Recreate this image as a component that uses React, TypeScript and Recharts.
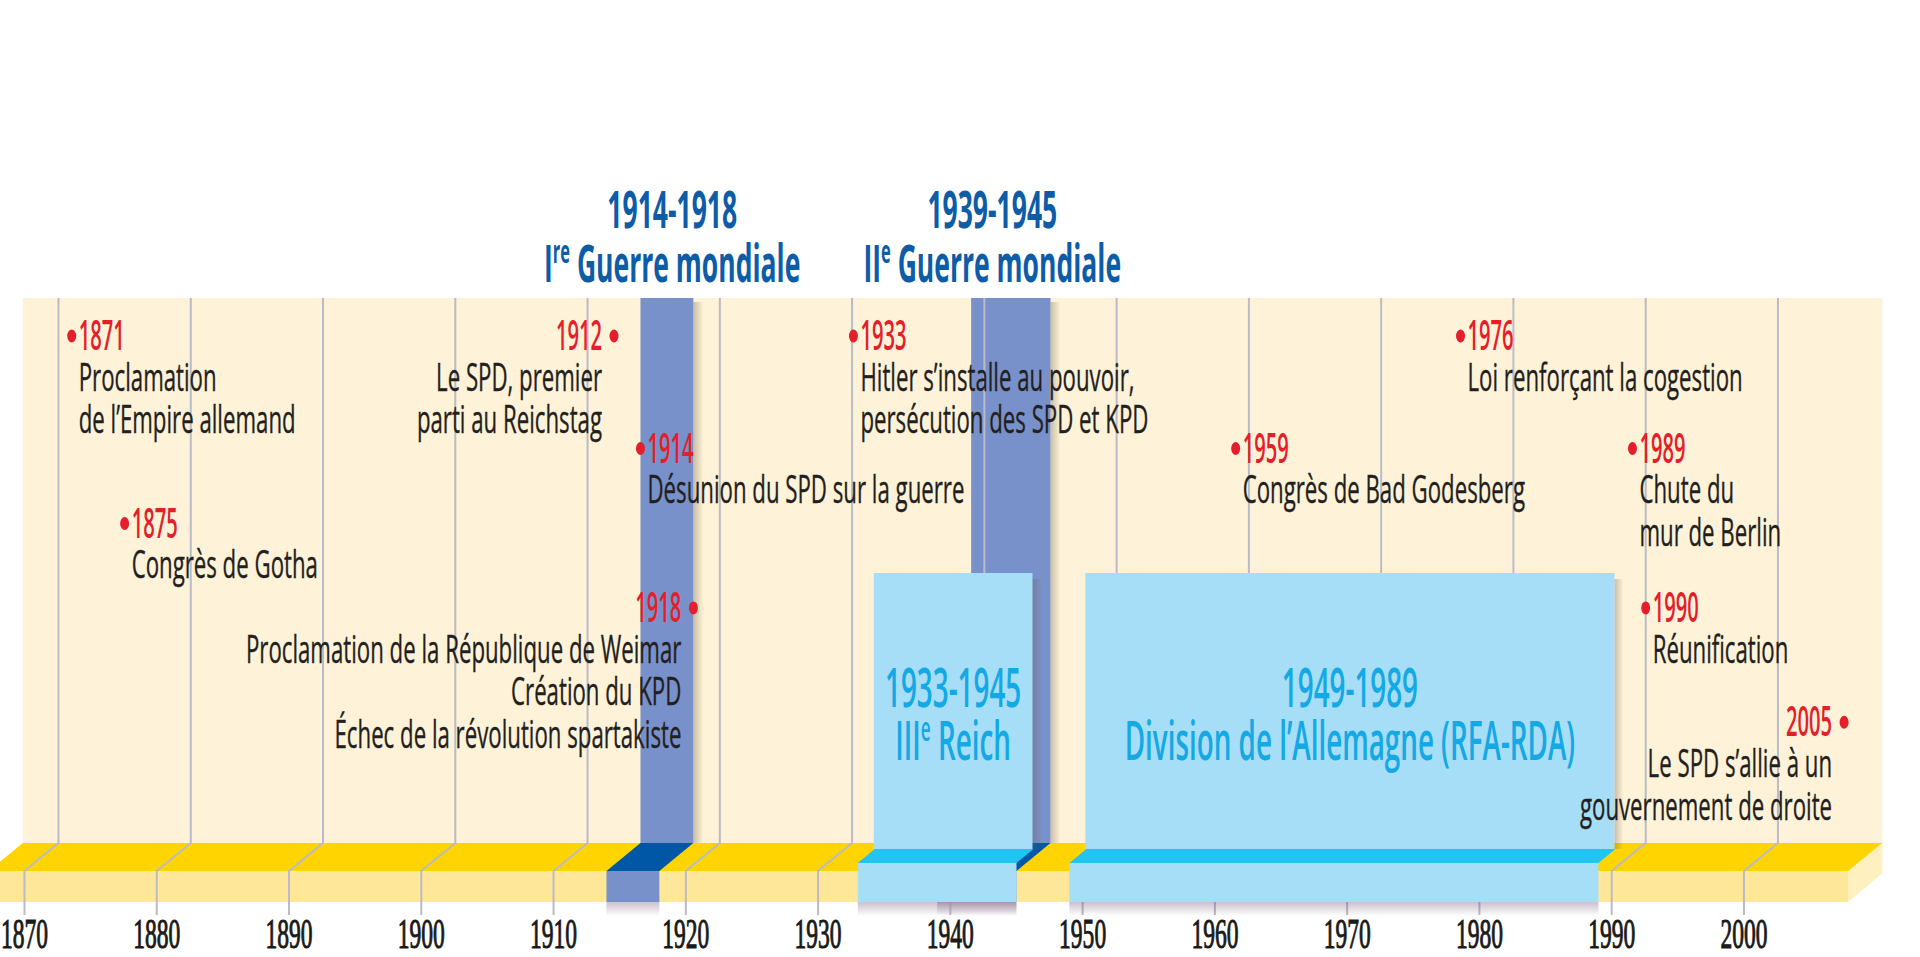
import React from "react";
import { ComposedChart, XAxis, YAxis, Scatter, ReferenceArea } from "recharts";

// decade ticks under the timeline
const decades = [1870, 1880, 1890, 1900, 1910, 1920, 1930, 1940, 1950, 1960, 1970, 1980, 1990, 2000];

// events (dot year, where the dot sits on the time axis, row, side of text)
const eventYears = ["1871", "1875", "1912", "1914", "1918", "1933", "1959", "1976", "1989", "1990", "2005"];
const eventAt = [1871, 1875, 1912, 1914, 1918, 1930.1, 1959, 1976, 1989, 1990, 2005];
const eventRow = [0, 5, 0, 3, 7.25, 0, 3, 0, 3, 7.25, 10.3];
const eventSide = ["right", "right", "left", "right", "left", "right", "right", "right", "right", "right", "left"];
const eventLines = [
  ["Proclamation", "de l’Empire allemand"],
  ["Congrès de Gotha"],
  ["Le SPD, premier", "parti au Reichstag"],
  ["Désunion du SPD sur la guerre"],
  ["Proclamation de la République de Weimar", "Création du KPD", "Échec de la révolution spartakiste"],
  ["Hitler s’installe au pouvoir,", "persécution des SPD et KPD"],
  ["Congrès de Bad Godesberg"],
  ["Loi renforçant la cogestion"],
  ["Chute du", "mur de Berlin"],
  ["Réunification"],
  ["Le SPD s’allie à un", "gouvernement de droite"],
];

// world wars (dark bands)
const warSpans = [[1914, 1918], [1939, 1945]];
const warDates = ["1914-1918", "1939-1945"];
const warNames = [["I", "re", " Guerre mondiale"], ["II", "e", " Guerre mondiale"]];
const warTitleAt = [1916.4, 1940.6];

// periods (light blue blocks)
const periodSpans = [[1933, 1945], [1949, 1989]];
const periodDates = ["1933-1945", "1949-1989"];
const periodNames = [["III", "e", " Reich"], ["Division de l’Allemagne (RFA-RDA)", "", ""]];

const timelineSpan = [1867.3, 2007.9];

// layout
const DEPTH = 34;
const MID = 16;
const CREAM_TOP = 298;
const BAR_BACK = 843;
const BAR_FRONT = 871;
const BAR_BOTTOM = 902;
const BLOCK_TOP = 573;

const SANS = "'Open Sans', 'Noto Sans', sans-serif";
const SERIF = "'Liberation Serif', 'DejaVu Serif', serif";
const RED = "#e41e2b";
const INK = "#231f20";
const BLUE = "#0d5ca8";
const CYAN = "#14a8e4";
const SUP = 0.62;

const ctx = document.createElement("canvas").getContext("2d") as CanvasRenderingContext2D;
const measure = (s: string, size: number, weight: number) => {
  ctx.font = `${weight} ${size}px ${SANS}`;
  return ctx.measureText(s).width;
};

// one <text> per block, squeezed horizontally (the print face is a condensed one)
const Block = (props: any) => {
  const { x, y, sx, anchor = "start", family = SANS, lines } = props;
  return (
    <text transform={`translate(${x} ${y}) scale(${sx} 1)`} textAnchor={anchor} fontFamily={family}>
      {lines.map((ln: any, k: number) => {
        const [a, sup = "", b = ""] = ln.parts;
        const weight = ln.weight ?? 400;
        const fill = ln.fill ?? INK;
        const fit = ln.squeeze
          ? { textLength: measure(a + b, ln.size, weight) * ln.squeeze, lengthAdjust: "spacingAndGlyphs" }
          : {};
        return (
          <tspan
            key={k}
            x={0}
            y={ln.y}
            fontSize={ln.size}
            fontWeight={weight}
            fill={fill}
            stroke={ln.bold ? fill : "none"}
            strokeWidth={ln.bold ?? 0}
            {...fit}
          >
            {sup ? (
              <>
                <tspan>{a}</tspan>
                <tspan fontSize={ln.size * SUP} dy={-ln.size * 0.36}>
                  {sup}
                </tspan>
                <tspan dy={ln.size * 0.36}>{b}</tspan>
              </>
            ) : (
              a + b
            )}
          </tspan>
        );
      })}
    </text>
  );
};

const events = eventYears.map((label, i) => ({
  at: eventAt[i],
  row: eventRow[i],
  label,
  side: eventSide[i],
  lines: eventLines[i],
}));
const tickData = decades.map((d) => ({ at: d, row: 0 }));

const CreamShape = (p: any) => {
  const { x, width } = p;
  return (
    <g>
      <defs>
        <linearGradient id="shR" x1="0" y1="0" x2="1" y2="0">
          <stop offset="0" stopColor="#6b5a4a" stopOpacity={0.35} />
          <stop offset="1" stopColor="#6b5a4a" stopOpacity={0} />
        </linearGradient>
        <linearGradient id="shD" x1="0" y1="0" x2="0" y2="1">
          <stop offset="0" stopColor="#6a4a6a" stopOpacity={0.35} />
          <stop offset="1" stopColor="#6a4a6a" stopOpacity={0} />
        </linearGradient>
      </defs>
      <rect x={x + DEPTH} y={CREAM_TOP} width={width} height={BAR_BACK - CREAM_TOP} fill="#fef3d9" />
    </g>
  );
};

const BarShape = (p: any) => {
  const { x, width } = p;
  const x2 = x + width;
  return (
    <g>
      <polygon
        points={`${x},${BAR_FRONT} ${x + DEPTH},${BAR_BACK} ${x2 + DEPTH},${BAR_BACK} ${x2},${BAR_FRONT}`}
        fill="#ffd400"
      />
      <rect x={x} y={BAR_FRONT} width={width} height={BAR_BOTTOM - BAR_FRONT} fill="#ffe79a" />
      <polygon
        points={`${x2},${BAR_FRONT} ${x2 + DEPTH},${BAR_BACK} ${x2 + DEPTH},${BAR_BACK + 30} ${x2},${BAR_BOTTOM}`}
        fill="#fff0bf"
      />
    </g>
  );
};

const WarShape = (p: any) => {
  const { x, width, i } = p;
  const x2 = x + width;
  const [from, to] = warSpans[i];
  const tx = x + DEPTH + ((warTitleAt[i] - from) / (to - from)) * width;
  return (
    <g>
      <rect x={x2 + DEPTH} y={CREAM_TOP + 4} width={10} height={BAR_BACK - CREAM_TOP - 4} fill="url(#shR)" />
      <rect x={x + DEPTH} y={CREAM_TOP} width={width} height={BAR_BACK - CREAM_TOP} fill="#7891ca" />
      <polygon
        points={`${x},${BAR_FRONT} ${x + DEPTH},${BAR_BACK} ${x2 + DEPTH},${BAR_BACK} ${x2},${BAR_FRONT}`}
        fill="#0057a5"
      />
      <rect x={x} y={BAR_FRONT} width={width} height={BAR_BOTTOM - BAR_FRONT} fill="#7891ca" />
      <rect x={x} y={BAR_BOTTOM} width={width} height={14} fill="url(#shD)" />
      <Block
        x={tx}
        y={228}
        sx={0.51}
        anchor="middle"
        lines={[
          { parts: [warDates[i]], size: 52, weight: 700, fill: BLUE, y: 0 },
          { parts: warNames[i], size: 52, weight: 700, fill: BLUE, y: 54 },
        ]}
      />
    </g>
  );
};

const PeriodShape = (p: any) => {
  const { x, width, i } = p;
  const x2 = x + width;
  const s = 17;
  const cx = x + MID + width / 2;
  return (
    <g>
      <rect x={x2 + MID} y={BLOCK_TOP + 6} width={9} height={849 - BLOCK_TOP - 6} fill="url(#shR)" />
      <rect x={x + MID} y={BLOCK_TOP} width={width} height={849 - BLOCK_TOP} fill="#a6ddf7" />
      <polygon points={`${x},863 ${x + s},849 ${x2 + s},849 ${x2},863`} fill="#22c4f2" />
      <rect x={x} y={863} width={width} height={BAR_BOTTOM - 863} fill="#a6ddf7" />
      <rect x={x} y={BAR_BOTTOM} width={width} height={14} fill="url(#shD)" />
      <Block
        x={cx}
        y={707}
        sx={0.515}
        anchor="middle"
        lines={[
          { parts: [periodDates[i]], size: 54, weight: 600, fill: CYAN, y: 0 },
          { parts: periodNames[i], size: 54, weight: 600, fill: CYAN, y: 53 },
        ]}
      />
    </g>
  );
};

const TickMark = (p: any) => {
  const { cx, payload } = p;
  return (
    <g>
      <polyline
        points={`${cx},915 ${cx},${BAR_FRONT} ${cx + DEPTH},${BAR_BACK} ${cx + DEPTH},${CREAM_TOP}`}
        fill="none"
        stroke="#b9bcc6"
        strokeWidth={2}
      />
      <Block
        x={cx}
        y={948}
        sx={0.56}
        anchor="middle"
        family={SERIF}
        lines={[{ parts: [String(payload.at)], size: 42, fill: "#1a1a1a", bold: 1.1, y: 0 }]}
      />
    </g>
  );
};

const EventMark = (p: any) => {
  const { cx, cy, payload } = p;
  const dx = cx + DEPTH;
  const right = payload.side === "right";
  const tx = right ? dx + 7 : dx - 12;
  const lines = [
    { parts: [payload.label], size: 42, weight: 600, fill: RED, y: 14, squeeze: 0.48 / 0.57 },
    ...payload.lines.map((line: string, k: number) => ({ parts: [line], size: 39, bold: 0.4, y: 55 + k * 42.5 })),
  ];
  return (
    <g>
      <ellipse cx={dx} cy={cy} rx={4.5} ry={6.5} fill={RED} />
      <Block x={tx} y={cy} sx={0.57} anchor={right ? "start" : "end"} lines={lines} />
    </g>
  );
};

const App = () => {
  return (
    <div style={{ position: "fixed", left: 0, top: 0, width: 1920, height: 957, background: "#fff" }}>
      <ComposedChart width={1920} height={957} margin={{ top: 0, right: 0, bottom: 0, left: 0 }}>
        <XAxis type="number" dataKey="at" domain={[1868.148, 2013.31]} allowDataOverflow hide />
        <YAxis type="number" dataKey="row" domain={[-8.96, 16.56]} reversed allowDataOverflow hide />
        <ReferenceArea
          x1={timelineSpan[0]}
          x2={timelineSpan[1]}
          ifOverflow="visible"
          zIndex={1}
          shape={(p: any) => <CreamShape {...p} />}
        />
        <ReferenceArea
          x1={timelineSpan[0]}
          x2={timelineSpan[1]}
          ifOverflow="visible"
          zIndex={2}
          shape={(p: any) => <BarShape {...p} />}
        />
        {warSpans.map((span, i) => (
          <ReferenceArea
            key={"war" + i}
            x1={span[0]}
            x2={span[1]}
            ifOverflow="visible"
            zIndex={3}
            shape={(p: any) => <WarShape {...p} i={i} />}
          />
        ))}
        <Scatter data={tickData} isAnimationActive={false} zIndex={4} shape={(p: any) => <TickMark {...p} />} />
        {periodSpans.map((span, i) => (
          <ReferenceArea
            key={"per" + i}
            x1={span[0]}
            x2={span[1]}
            ifOverflow="visible"
            zIndex={5}
            shape={(p: any) => <PeriodShape {...p} i={i} />}
          />
        ))}
        <Scatter data={events} isAnimationActive={false} zIndex={6} shape={(p: any) => <EventMark {...p} />} />
      </ComposedChart>
    </div>
  );
};

export default App;
